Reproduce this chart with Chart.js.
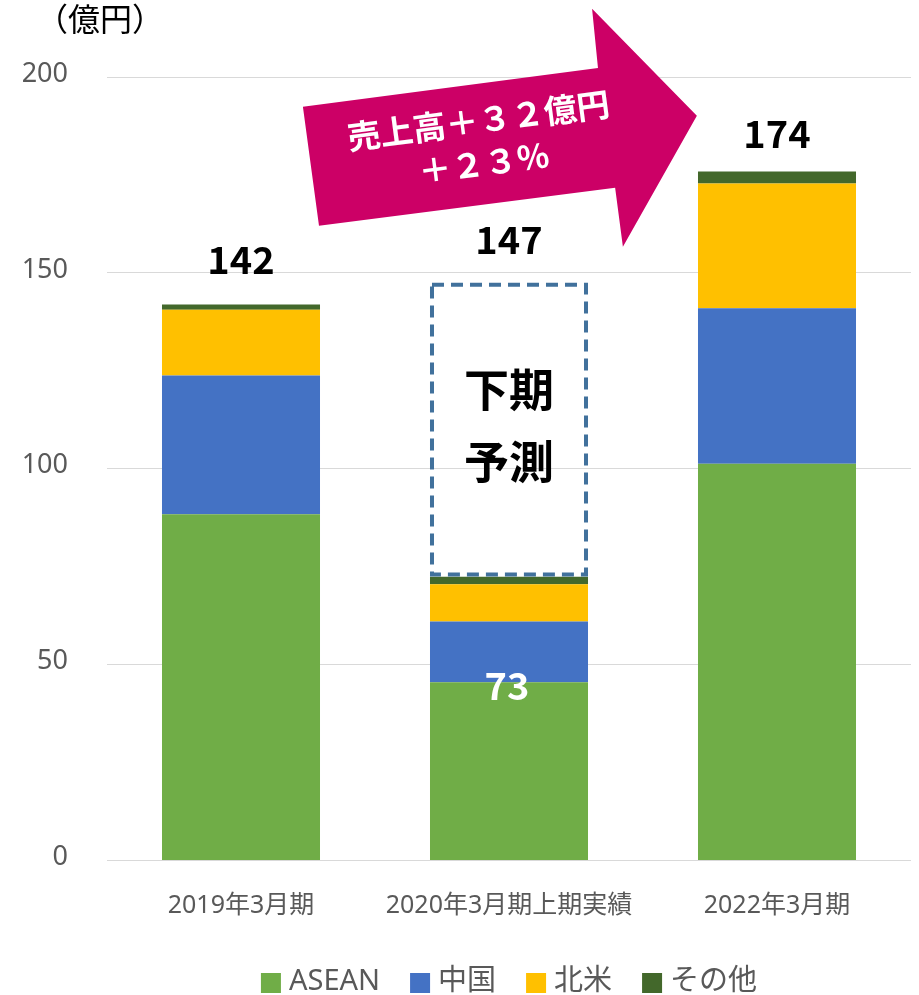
<!DOCTYPE html>
<html><head><meta charset="utf-8">
<script src="https://cdn.jsdelivr.net/npm/chart.js@4.4.0/dist/chart.umd.min.js"></script>
<style>html,body{margin:0;padding:0;background:#fff;}</style>
</head><body>
<canvas id="c" width="919" height="995"></canvas>
<script>
const categories = ['2019年3月期', '2020年3月期上期実績', '2022年3月期'];
const asean = [88.4, 45.5, 101.3];
const china = [35.4, 15.5, 39.7];
const northAmerica = [16.8, 9.5, 31.8];
const others = [1.3, 1.9, 3.1];
const seriesNames = ['ASEAN', '中国', '北米', 'その他'];
const totalLabels = ['142', '147', '174'];
const totalLabelValues = [142, 147, 174];
const firstHalfLabel = '73';
const forecastRange = [73, 147];
const yTicks = [0, 50, 100, 150, 200];
const unitLabel = '（億円）';
const arrowLines = ['売上高＋３２億円', '＋２３％'];

const FONT = '"Noto Sans", "Noto Sans CJK JP", sans-serif';
const BOLD = '"Noto Sans CJK JP", "Noto Sans", sans-serif';
const colors = ['#70AD47', '#4472C4', '#FFC000', '#43682B'];
const seriesData = [asean, china, northAmerica, others];

const overlay = {
  id: 'overlay',
  afterDatasetsDraw(chart) {
    const ctx = chart.ctx;
    const xs = chart.scales.x, ys = chart.scales.y;
    const meta = chart.getDatasetMeta(0);
    // dashed forecast box on category 1
    const bar = meta.data[1];
    const lw = 4;
    const l = bar.x - bar.width / 2 + lw / 2, r = bar.x + bar.width / 2 - lw / 2;
    const t = ys.getPixelForValue(forecastRange[1]), b = ys.getPixelForValue(forecastRange[0]);
    ctx.save();
    ctx.strokeStyle = '#41719C';
    ctx.lineWidth = lw;
    ctx.setLineDash([12, 7]);
    ctx.strokeRect(l, t, r - l, b - t);
    ctx.setLineDash([]);
    ctx.fillStyle = '#000';
    ctx.textAlign = 'center';
    ctx.textBaseline = 'middle';
    ctx.font = 'bold 45px ' + BOLD;
    ctx.fillText('下期', bar.x, ys.getPixelForValue(120.1));
    ctx.fillText('予測', bar.x, ys.getPixelForValue(101.8));
    // total labels
    ctx.font = 'bold 38px ' + BOLD;
    for (let i = 0; i < totalLabels.length; i++) {
      const el = meta.data[i];
      ctx.fillText(totalLabels[i], el.x, ys.getPixelForValue(totalLabelValues[i]) - 45);
    }
    ctx.fillStyle = '#fff';
    ctx.fillText(firstHalfLabel, bar.x - 2, ys.getPixelForValue(asean[1]) + 3);
    // arrow (in category/value space)
    const shape = [[0.231, 192.4], [1.332, 202.3], [1.310, 217.4], [1.701, 190.1], [1.425, 156.7], [1.396, 171.7], [0.291, 162.0]];
    ctx.fillStyle = '#CC0066';
    ctx.beginPath();
    shape.forEach((p, k) => {
      const px = xs.getPixelForValue(p[0]), py = ys.getPixelForValue(p[1]);
      if (k === 0) ctx.moveTo(px, py); else ctx.lineTo(px, py);
    });
    ctx.closePath();
    ctx.fill();
    const cx = xs.getPixelForValue(0.896), cy = ys.getPixelForValue(183.6);
    ctx.translate(cx, cy);
    ctx.rotate(-7.5 * Math.PI / 180);
    ctx.fillStyle = '#fff';
    ctx.font = 'bold 33px ' + BOLD;
    ctx.fillText(arrowLines[0], 0, -21);
    ctx.fillText(arrowLines[1], 0, 22);
    ctx.restore();
  },
  afterDraw(chart) {
    const ctx = chart.ctx;
    ctx.save();
    // unit label
    ctx.fillStyle = '#000';
    ctx.font = '32px ' + FONT;
    ctx.textAlign = 'left';
    ctx.textBaseline = 'middle';
    ctx.fillText(unitLabel, 36, 22);
    // legend
    ctx.font = '29px ' + FONT;
    ctx.textBaseline = 'alphabetic';
    const bw = 20, bh = 20, gap = 8, itemGap = 30;
    const widths = seriesNames.map(n => ctx.measureText(n).width);
    let total = widths.reduce((a, w) => a + bw + gap + w, 0) + itemGap * (seriesNames.length - 1);
    const ca = chart.chartArea;
    let x = (ca.left + ca.right) / 2 - total / 2;
    const baseY = 990;
    seriesNames.forEach((n, i) => {
      ctx.fillStyle = colors[i];
      ctx.fillRect(x, baseY - 17, bw, bh);
      x += bw + gap;
      ctx.fillStyle = '#595959';
      ctx.fillText(n, x, baseY);
      x += widths[i] + itemGap;
    });
    ctx.restore();
  }
};

new Chart(document.getElementById('c'), {
  type: 'bar',
  data: {
    labels: categories,
    datasets: seriesNames.map((n, i) => ({
      label: n,
      data: seriesData[i],
      backgroundColor: colors[i],
      borderWidth: 0,
      barPercentage: 1,
      categoryPercentage: 0.5896
    }))
  },
  options: {
    responsive: false,
    animation: false,
    devicePixelRatio: 1,
    layout: { padding: { top: 77, left: 0, right: 8, bottom: 44.5 } },
    plugins: { legend: { display: false }, tooltip: { enabled: false }, title: { display: false } },
    scales: {
      x: {
        stacked: true,
        grid: { display: false, drawTicks: false },
        border: { display: false },
        ticks: { color: '#595959', font: { family: FONT, size: 25 }, padding: 30, maxRotation: 0, autoSkip: false }
      },
      y: {
        stacked: true,
        min: 0, max: 200,
        afterFit(s) { s.width = 107; },
        afterBuildTicks(s) { s.ticks = yTicks.map(v => ({ value: v })); },
        ticks: { color: '#595959', font: { family: FONT, size: 27 }, padding: 39, labelOffset: -3 },
        grid: { color: '#D9D9D9', lineWidth: 1, drawTicks: false },
        border: { display: false }
      }
    }
  },
  plugins: [overlay]
});
</script>
</body></html>
